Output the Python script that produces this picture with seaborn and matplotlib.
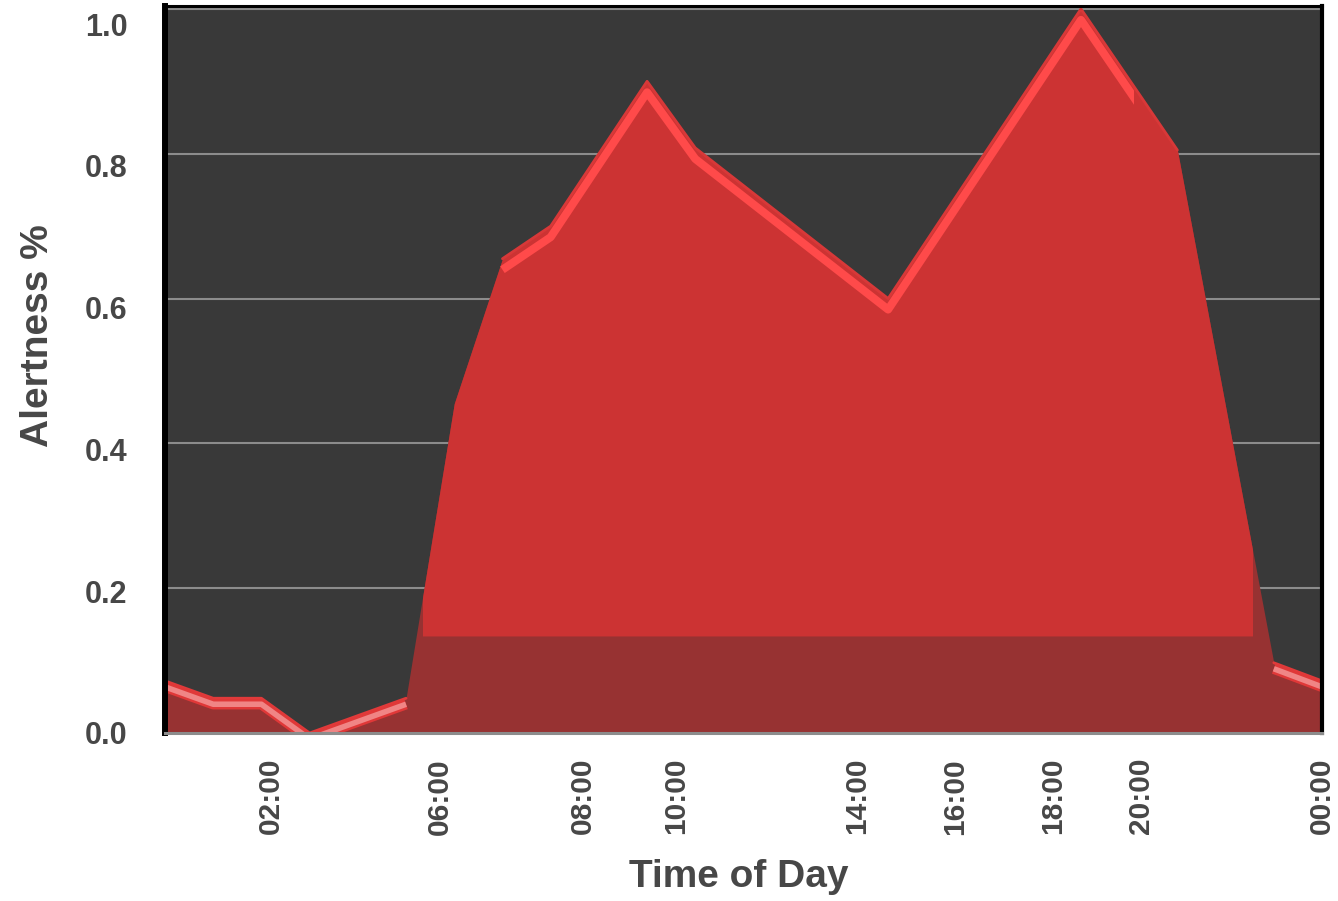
import numpy as np
import pandas as pd
import matplotlib
matplotlib.use("Agg")
import matplotlib.pyplot as plt
import matplotlib.transforms as mtransforms
import matplotlib.patheffects as pe
from matplotlib.patches import Rectangle
import seaborn as sns

# Alertness over a day (hour of day -> alertness fraction)
hours = [0, 1, 2, 3, 5, 6, 7, 8, 10, 11, 15, 19, 21, 23, 24]
alertness = [0.072, 0.048, 0.048, 0.0, 0.048, 0.455, 0.655, 0.70,
             0.90, 0.808, 0.60, 1.0, 0.805, 0.097, 0.072]

# Tick marks along the time axis
tick_hours = [2.2, 5.7, 8.67, 10.6, 14.35, 16.4, 18.42, 20.25, 24.0]
tick_labels = ["02:00", "06:00", "08:00", "10:00", "14:00",
               "16:00", "18:00", "20:00", "00:00"]
y_ticks = [0.0, 0.2, 0.4, 0.6, 0.8, 1.0]

# Styling of the pseudo-3D area
BASE_LEVEL = 0.134          # height of the darker floor strip
FACE_SPAN = (5.35, 22.55)   # horizontal extent of the bright front face
BAND_END = 20.1             # bevel band fades out on the far side of the last peak
LABEL_SQUEEZE = 0.979       # y labels sit slightly below their gridlines

TEXT = "#474747"
BG = "#393939"
GRID = "#8c8c8c"

sns.set_theme(style="dark")
plt.rcParams["font.family"] = ["Liberation Sans", "DejaVu Sans"]
plt.rcParams["font.weight"] = "bold"
plt.rcParams["axes.labelweight"] = "bold"

df = pd.DataFrame({"hour": hours, "alertness": alertness})
x = df["hour"].to_numpy(dtype=float)
y = df["alertness"].to_numpy(dtype=float)

W, H = 1338, 901
fig = plt.figure(figsize=(W / 100, H / 100), dpi=100)
fig.patch.set_facecolor("white")
ax = fig.add_axes([165 / W, (H - 733) / H, 1157 / W, 727 / H])
ax.set_facecolor(BG)
ax.set_axisbelow(True)

# Horizontal gridlines
ax.hlines(y_ticks[1:], 0, 24, color=GRID, lw=1.5, zorder=0.5)

# Dark back layer covering the whole area
ax.fill_between(x, 0, y, color="#973232", lw=0, zorder=1.0)

# Bright front face above the floor strip
face = ax.fill_between(x, BASE_LEVEL, y, where=y >= BASE_LEVEL,
                       interpolate=True, color="#cc3333", lw=0, zorder=1.1)
face.set_clip_path(Rectangle((FACE_SPAN[0], 0), FACE_SPAN[1] - FACE_SPAN[0], 1.2,
                             transform=ax.transData))

# Outline of the top edge, split into the bevelled parts
hi_mask = (x >= 7) & (x <= 21)
lo_mask = (x <= 5) | (x >= 23)
part = np.where(hi_mask, "face", np.where(x <= 5, "night", "late"))
edge_df = df.assign(part=part)[hi_mask | lo_mask]
sns.lineplot(data=edge_df[edge_df["part"] == "face"], x="hour", y="alertness",
             units="part", estimator=None, sort=False, ax=ax,
             color="#d83838", lw=2.0, zorder=1.2)
sns.lineplot(data=edge_df[edge_df["part"] != "face"], x="hour", y="alertness",
             units="part", estimator=None, sort=False, ax=ax,
             color="#e03a3a", lw=2.0, zorder=1.2)

# Bevel bands just under the top edge
y_hi = np.where(hi_mask, y, np.nan)
y_lo = np.where(lo_mask, y, np.nan)
off_hi = mtransforms.offset_copy(ax.transData, fig=fig, x=0, y=-11, units="dots")
off_lo = mtransforms.offset_copy(ax.transData, fig=fig, x=0, y=-6, units="dots")

band_hi, = ax.plot(x, y_hi, color="#ff4a4a", lw=5.8, transform=off_hi, zorder=1.3,
                   solid_capstyle="butt", solid_joinstyle="round")
band_hi.set_clip_path(Rectangle((0, -0.1), BAND_END, 1.3, transform=ax.transData))
ax.plot(x, y_lo, color="#f08585", lw=4.0, transform=off_lo, zorder=1.3,
        solid_capstyle="butt", solid_joinstyle="round",
        path_effects=[pe.Stroke(linewidth=7.5, foreground="#e03838"), pe.Normal()])

# Axes limits and ticks
ax.set_xlim(0, 24)
ax.set_ylim(0, 1.004)
ax.set_yticks([v * LABEL_SQUEEZE for v in y_ticks],
              labels=[f"{v:.1f}" for v in y_ticks])
ax.set_xticks(tick_hours)
ax.set_xticklabels(tick_labels)
ax.grid(False)

ax.tick_params(axis="x", length=0, pad=18, labelsize=21.5, labelcolor=TEXT,
               labelrotation=90)
ax.tick_params(axis="y", length=0, pad=27, labelsize=22, labelcolor=TEXT)
for lbl in ax.get_xticklabels() + ax.get_yticklabels():
    lbl.set_fontweight("bold")

# Frame
for side, (col, lw) in {"left": ("black", 4.3), "top": ("black", 2.2),
                        "right": ("black", 3.0), "bottom": (GRID, 2.2)}.items():
    ax.spines[side].set_visible(True)
    ax.spines[side].set_color(col)
    ax.spines[side].set_linewidth(lw)

ax.set_xlabel("Time of Day", fontsize=28, fontweight="bold", color=TEXT)
ax.set_ylabel("Alertness %", fontsize=28, fontweight="bold", color=TEXT)
ax.xaxis.set_label_coords(0.496, -0.173)
ax.yaxis.set_label_coords(-0.094, 0.547)

fig.savefig("out.png", dpi=100, facecolor="white")
